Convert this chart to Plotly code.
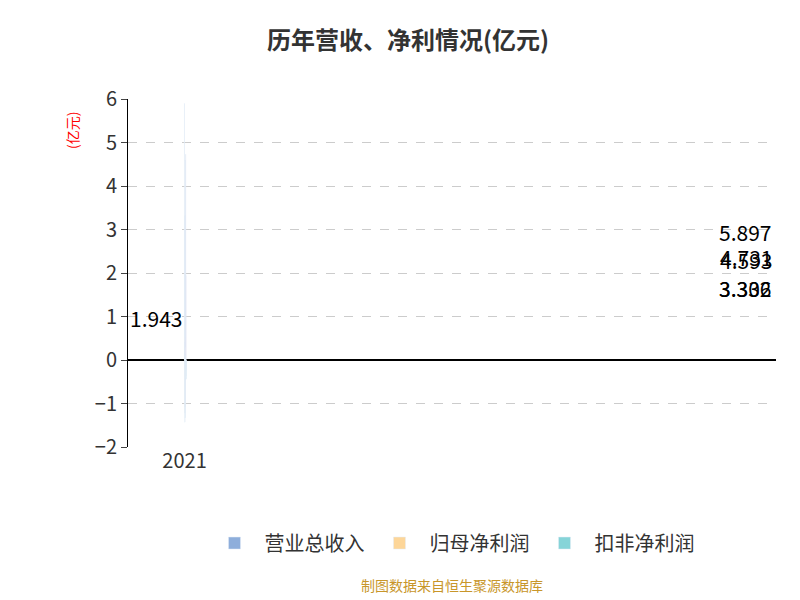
import plotly.graph_objects as go

years = ["2021", "2022", "2023", "2024", "2025", "2026H1"]
revenue = [5.897, 3.306, 3.332, 4.593, 4.731, 1.943]
net_profit = [0.52, -1.22, -1.08, 0.29, -0.25, -0.37]
deducted_profit = [0.40, -1.43, -1.33, 0.12, -0.45, -0.43]

fig = go.Figure()
fig.add_trace(go.Bar(x=years, y=revenue, name="营业总收入", marker_color="#8eaedb"))
fig.add_trace(go.Bar(x=years, y=net_profit, name="归母净利润", marker_color="#fdd699"))
fig.add_trace(go.Bar(x=years, y=deducted_profit, name="扣非净利润", marker_color="#86d4d8"))

# revenue value labels, mid-height of the first bar in each group
for yr, v in zip(years, revenue):
    fig.add_annotation(x=yr, y=v / 2, text=f"{v:.3f}", showarrow=False,
                       xshift=-30, font=dict(size=21, color="black"))

fig.add_annotation(text="(亿元)", xref="paper", yref="paper", x=-0.105, y=0.97,
                   textangle=-90, showarrow=False, font=dict(size=14, color="red"))
fig.add_annotation(text="制图数据来自恒生聚源数据库", xref="paper", yref="paper",
                   x=0.5, y=-0.43, showarrow=False, font=dict(size=14, color="#c8962a"))

fig.update_layout(
    width=800, height=600,
    title=dict(text="<b>历年营收、净利情况(亿元)</b>", x=0.5, y=0.96,
               font=dict(size=24, color="#333")),
    font=dict(family="Noto Sans CJK SC, Noto Sans, sans-serif", color="#333"),
    plot_bgcolor="white", paper_bgcolor="white",
    margin=dict(l=120, r=32, t=91, b=161),
    barmode="group", bargap=0.12, bargroupgap=0.05,
    legend=dict(orientation="h", x=0.5, xanchor="center", y=-0.22,
                font=dict(size=20), itemwidth=50),
    xaxis=dict(type="category", tickfont=dict(size=20), showline=False, ticks=""),
    yaxis=dict(range=[-2, 6], dtick=1, tickfont=dict(size=20),
               showgrid=True, gridcolor="#cccccc", griddash="dash",
               zeroline=True, zerolinecolor="black", zerolinewidth=1.5,
               showline=True, linecolor="black", ticks="outside", ticklen=6),
)

fig.write_html("out.html")
